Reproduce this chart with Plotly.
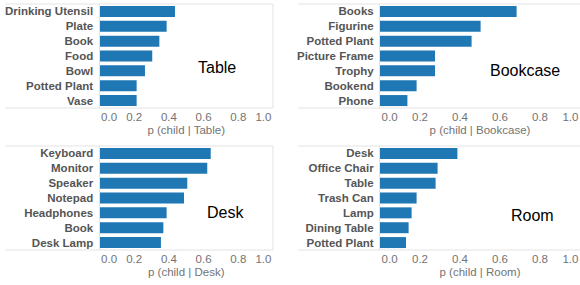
import plotly.graph_objects as go

W, H = 580, 285

table_cats = ["Drinking Utensil", "Plate", "Book", "Food", "Bowl", "Potted Plant", "Vase"]
table_vals = [0.435, 0.387, 0.345, 0.304, 0.262, 0.214, 0.214]

bookcase_cats = ["Books", "Figurine", "Potted Plant", "Picture Frame", "Trophy", "Bookend", "Phone"]
bookcase_vals = [0.683, 0.503, 0.458, 0.275, 0.275, 0.183, 0.137]

desk_cats = ["Keyboard", "Monitor", "Speaker", "Notepad", "Headphones", "Book", "Desk Lamp"]
desk_vals = [0.641, 0.621, 0.506, 0.487, 0.387, 0.368, 0.354]

room_cats = ["Desk", "Office Chair", "Table", "Trash Can", "Lamp", "Dining Table", "Potted Plant"]
room_vals = [0.387, 0.288, 0.278, 0.183, 0.158, 0.143, 0.130]

parents = ["Table", "Bookcase", "Desk", "Room"]
tick_vals = [0, 0.2, 0.4, 0.6, 0.8, 1.0]
NB = "\u00a0"
tick_text = [NB * 6 + "0.0", "0.2", "0.4", "0.6", "0.8", "1.0" + NB * 6]

BLUE = "#1f77b4"
LINE = "#e3e3e3"
LABEL = "#555555"
TICK = "#737373"
FONT = "Liberation Sans, Arial, sans-serif"

# panel pixel boxes: (x0, x1, y0, y1)
boxes = [(99.5, 273, 4, 108), (380, 580, 4, 108), (99.5, 273, 146, 250), (380, 580, 146, 250)]
frame_x = [(5, 273), (298, 580), (5, 273), (298, 580)]
title_pos = [(0.675, 0.39), (0.7235, 0.365), (0.727, 0.365), (0.76, 0.334)]

data = [(table_cats, table_vals), (bookcase_cats, bookcase_vals), (desk_cats, desk_vals), (room_cats, room_vals)]

fig = go.Figure()
layout = {}
shapes = []
annotations = []

def px(x):
    return x / W

def py(y):
    return 1 - y / H

for i, ((cats, vals), name, box, fx, tp) in enumerate(zip(data, parents, boxes, frame_x, title_pos)):
    n = "" if i == 0 else str(i + 1)
    fig.add_trace(go.Bar(
        x=vals, y=cats, orientation="h",
        marker=dict(color=BLUE, line=dict(width=0)),
        xaxis="x" + n, yaxis="y" + n, showlegend=False,
        hovertemplate="%{y}: %{x:.3f}<extra></extra>",
    ))
    x0, x1, y0, y1 = box
    layout["xaxis" + n] = dict(
        domain=[px(x0), px(x1)], anchor="y" + n, range=[0, 1], automargin=False,
        tickvals=tick_vals, ticktext=tick_text, showgrid=False, zeroline=False,
        showline=False, ticks="", ticklabeloverflow="allow",
        tickfont=dict(size=11.5, color=TICK, family=FONT),
        title=dict(text="p (child | %s)" % name, font=dict(size=11.5, color=TICK, family=FONT), standoff=4),
        fixedrange=True,
    )
    layout["yaxis" + n] = dict(
        domain=[py(y1), py(y0)], anchor="x" + n, autorange="reversed", automargin=False,
        categoryorder="array", categoryarray=cats,
        showgrid=False, zeroline=False, showline=True, linecolor=LINE, linewidth=1,
        ticks="", ticklabelstandoff=3,
        tickfont=dict(size=11.5, color=LABEL, family=FONT, weight="bold"),
        fixedrange=True,
    )
    shapes.append(dict(type="line", xref="paper", yref="paper", x0=px(fx[0]), x1=px(fx[1]), y0=py(y0), y1=py(y0), line=dict(color=LINE, width=1)))
    shapes.append(dict(type="line", xref="paper", yref="paper", x0=px(fx[0]), x1=px(fx[1]), y0=py(y1), y1=py(y1), line=dict(color=LINE, width=1)))
    if x1 < W:
        shapes.append(dict(type="line", xref="paper", yref="paper", x0=px(x1), x1=px(x1), y0=py(y0), y1=py(y1), line=dict(color=LINE, width=1)))
    annotations.append(dict(text=name, xref="x" + n, yref="y%s domain" % n, x=tp[0], y=tp[1],
                            showarrow=False, xanchor="center", yanchor="middle",
                            font=dict(size=16, color="#000000", family=FONT)))

fig.update_layout(
    template="none",
    width=W, height=H, margin=dict(l=0, r=0, t=0, b=0, autoexpand=False),
    paper_bgcolor="white", plot_bgcolor="white",
    bargap=0.26, shapes=shapes, annotations=annotations, **layout,
)

fig.write_html(
    "out.html",
    config={"displayModeBar": False},
    post_script="document.body.style.margin='0';document.body.style.overflow='hidden';",
)
